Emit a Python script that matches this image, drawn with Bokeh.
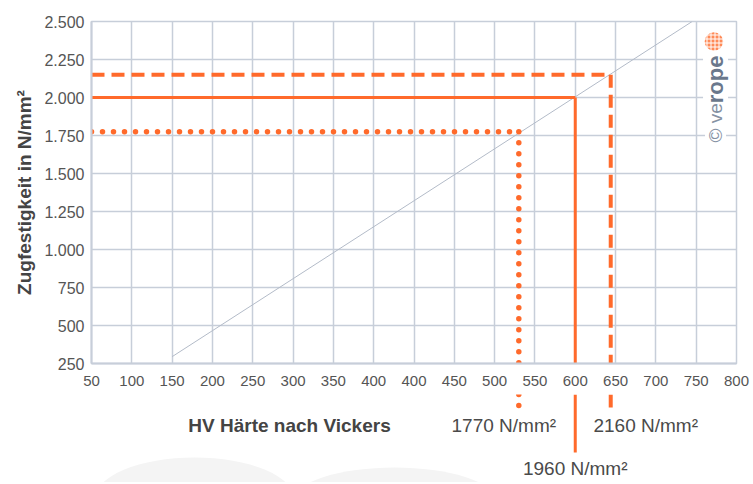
from math import pi
from bokeh.plotting import figure
from bokeh.layouts import column
from bokeh.models import Range1d, FixedTicker, Label
from bokeh.core.properties import value
from bokeh.embed import file_html
from bokeh.resources import INLINE

# ---- axis ticks (as drawn on the original; note the repeated "400") ----
x_ticks = list(range(50, 851, 50))
x_tick_labels = ["50", "100", "150", "200", "250", "300", "350", "400", "400",
                 "450", "500", "550", "600", "650", "700", "750", "800"]
y_ticks = list(range(250, 2501, 250))
y_tick_labels = ["250", "500", "750", "1.000", "1.250", "1.500",
                 "1.750", "2.000", "2.250", "2.500"]

# ---- diagonal conversion line (positions on the drawn axis) ----
diag_x = [150, 795]
diag_y = [295, 2500]

# ---- marked readings ----
mark_hv = [580, 650, 694]          # x on the drawn axis
mark_rm = [1775, 2000, 2150]       # y (N/mm²)
mark_labels = ["1770 N/mm²", "1960 N/mm²", "2160 N/mm²"]

ORANGE = "#ff6a2b"
GRID = "#c7ced9"
FONT = "Liberation Sans"

# layout constants
LEFT, FRAME_W, RIGHT = 91, 645, 16
X0, X1 = 50, 850
W = LEFT + FRAME_W + RIGHT
upp = (X1 - X0) / FRAME_W            # axis units per pixel

p = figure(width=W, height=394, x_range=Range1d(X0, X1), y_range=Range1d(250, 2500),
           output_backend="svg", toolbar_location=None,
           min_border_left=LEFT, min_border_right=RIGHT, min_border_top=21, min_border_bottom=31)
p.background_fill_color = "white"
p.border_fill_color = "white"
p.outline_line_color = GRID
p.outline_line_width = 1.5

p.xaxis.ticker = FixedTicker(ticks=x_ticks)
p.xaxis.major_label_overrides = {t: l for t, l in zip(x_ticks, x_tick_labels)}
p.yaxis.ticker = FixedTicker(ticks=y_ticks)
p.yaxis.major_label_overrides = {t: l for t, l in zip(y_ticks, y_tick_labels)}
for ax in (p.xaxis, p.yaxis):
    ax.major_tick_line_color = None
    ax.minor_tick_line_color = None
    ax.major_tick_out = 0
    ax.major_tick_in = 0
    ax.minor_tick_out = 0
    ax.minor_tick_in = 0
    ax.axis_line_color = GRID
    ax.axis_line_width = 2
    ax.major_label_text_font = FONT
    ax.major_label_text_color = "#555555"
p.xaxis.major_label_text_font_size = "15px"
p.yaxis.major_label_text_font_size = "16px"
p.xaxis.major_label_standoff = 12
p.yaxis.major_label_standoff = 7
p.yaxis.axis_label = "Zugfestigkeit in N/mm²"
p.yaxis.axis_label_text_font = FONT
p.yaxis.axis_label_text_font_style = "bold"
p.yaxis.axis_label_text_font_size = "19px"
p.yaxis.axis_label_text_color = "#444444"
p.yaxis.axis_label_standoff = 6

p.xgrid.ticker = FixedTicker(ticks=x_ticks)
p.ygrid.ticker = FixedTicker(ticks=y_ticks)
p.grid.grid_line_color = GRID
p.grid.grid_line_width = 1.5

p.line(diag_x, diag_y, line_color="#b3bbc8", line_width=1)

styles = [
    dict(line_dash="0 11", line_cap="round", line_width=5.5),
    dict(line_dash="solid", line_width=3),
    dict(line_dash="13 7", line_width=4),
]
for hv, rm, st in zip(mark_hv, mark_rm, styles):
    p.line([X0, hv], [rm, rm], line_color=ORANGE, **st)
    p.line([hv, hv], [rm, 250], line_color=ORANGE, **st)

# ---- logo ----
p.add_layout(Label(x=824, y=1962, text="rope", angle=pi / 2, text_align="left",
                   text_baseline="middle", text_font=FONT, text_font_style="bold",
                   text_font_size="22px", text_color="#6a788c",
                   background_fill_color="white"))
p.add_layout(Label(x=824, y=1962, text="© ve", angle=pi / 2, text_align="right",
                   text_baseline="middle", text_font=FONT,
                   text_font_size="19px", text_color="#8591a3",
                   background_fill_color="white"))
p.scatter([822], [2368], size=20, marker="circle", fill_color="#ff8a57",
          line_color="white", line_width=1.5,
          hatch_pattern="+", hatch_color="white", hatch_scale=4, hatch_weight=1)

# ---- annotation strip below the axis (same x scale, frames aligned) ----
p2 = figure(width=W, height=88, x_range=p.x_range, y_range=Range1d(88, 0),
            output_backend="svg", toolbar_location=None,
            x_axis_location=None, y_axis_location=None,
            min_border_left=LEFT, min_border_right=RIGHT, min_border_top=0, min_border_bottom=0)
p2.grid.visible = False
p2.outline_line_color = None
p2.background_fill_color = "white"
p2.border_fill_color = "white"

# faint decorative background humps
p2.ellipse(x=[X0 + 103 * upp, X0 + 303 * upp], y=[105, 105],
           width=[200, 200], height=[84, 64],
           width_units="screen", height_units="screen",
           fill_color="#f4f4f4", line_color=None)

stub_len = [15, 58, 15]
for hv, ln, st in zip(mark_hv, stub_len, styles):
    p2.line([hv, hv], [0, ln], line_color=ORANGE, **st)

offsets = [-15, 0, 35]
label_y = [31, 74, 31]
for hv, lab, off, ly in zip(mark_hv, mark_labels, offsets, label_y):
    p2.text(x=[hv], y=[ly], text=[lab], x_offset=off, text_align="center",
            text_baseline="middle", text_font=value(FONT), text_font_size="19px",
            text_color="#4a4a4a")

p2.text(x=[X0 + 198 * upp], y=[31], text=["HV Härte nach Vickers"], text_align="center",
        text_baseline="middle", text_font=value(FONT), text_font_style="bold",
        text_font_size="19px", text_color="#444444")

layout = column(p, p2, spacing=0)
open("out.html", "w").write(file_html(layout, INLINE))
